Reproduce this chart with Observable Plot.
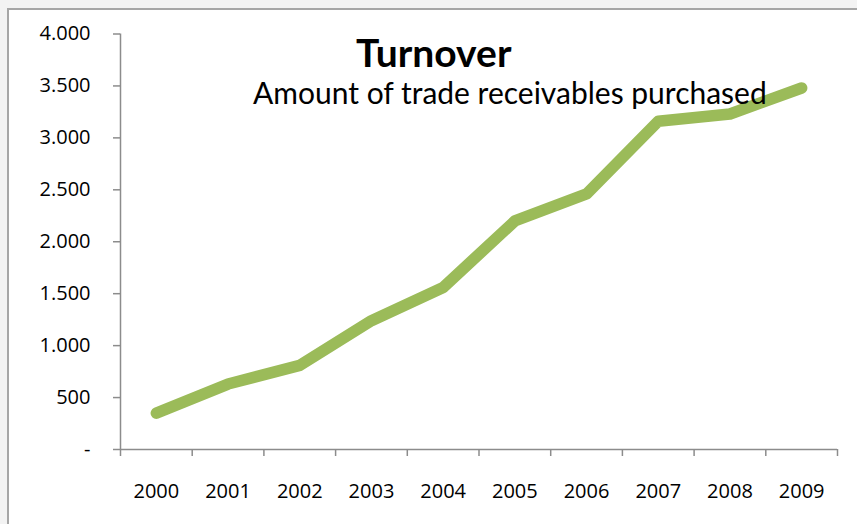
<!DOCTYPE html>
<html>
<head>
<meta charset="utf-8">
<script src="https://cdn.jsdelivr.net/npm/d3@7"></script>
<script src="https://cdn.jsdelivr.net/npm/@observablehq/plot@0.6"></script>
<style>
  html, body { margin: 0; padding: 0; background: #f3f3f3; }
  #wrap { position: relative; width: 857px; height: 524px; overflow: hidden; }
  #frame { position: absolute; left: 7px; top: 8px; width: 900px; height: 600px;
           border: 2px solid #a6a6a6; background: #ffffff; }
  #chart { position: absolute; left: 0; top: 0; }
  .title { position: absolute; left: 356px; top: 33px; font-family: Lato, sans-serif;
           font-weight: 700; font-size: 39px; line-height: 1; color: #000; white-space: nowrap; }
  .subtitle { position: absolute; left: 253px; top: 77px; font-family: Lato, sans-serif;
           font-weight: 400; font-size: 30px; line-height: 1; color: #000; white-space: nowrap; }
</style>
</head>
<body>
<div id="wrap">
  <div id="frame"></div>
  <div id="chart"></div>
  <div class="title">Turnover</div>
  <div class="subtitle">Amount of trade receivables purchased</div>
</div>
<script>
const years = [2000, 2001, 2002, 2003, 2004, 2005, 2006, 2007, 2008, 2009];
const turnover = [350, 630, 810, 1240, 1560, 2200, 2460, 3160, 3230, 3480];
const yTicks = [0, 500, 1000, 1500, 2000, 2500, 3000, 3500, 4000];

const data = years.map((y, i) => ({year: y, value: turnover[i]}));
const boundaries = years.map(y => y - 0.5).concat([years[years.length - 1] + 0.5]);
const fmt = d => d === 0 ? "-" : d3.format(",")(d).replace(/,/g, ".");

const chart = Plot.plot({
  width: 857,
  height: 524,
  marginLeft: 120,
  marginRight: 20,
  marginTop: 33.5,
  marginBottom: 75,
  style: {background: "transparent", fontFamily: "'Open Sans', sans-serif", fontSize: "20px", color: "#000"},
  x: {type: "linear", domain: [years[0] - 0.5, years[years.length - 1] + 0.5]},
  y: {domain: [0, 4000]},
  marks: [
    Plot.axisY({ticks: yTicks, tickSize: 7, tickPadding: 23, tickFormat: fmt, label: null,
                stroke: "#8c8c8c", strokeWidth: 1.5, strokeOpacity: 1, fill: "#000", fontSize: 20}),
    Plot.axisX({ticks: boundaries, tickSize: 7, tickFormat: () => "", label: null,
                stroke: "#8c8c8c", strokeWidth: 1.5, strokeOpacity: 1}),
    Plot.axisX({ticks: years, tickSize: 0, tickPadding: 34, tickFormat: d => String(d), label: null,
                fill: "#000", fontSize: 20}),
    Plot.ruleX([years[0] - 0.5], {stroke: "#8c8c8c", strokeWidth: 1.5}),
    Plot.ruleY([0], {stroke: "#8c8c8c", strokeWidth: 1.5}),
    Plot.line(data, {x: "year", y: "value", stroke: "#9bbb59", strokeWidth: 11.5,
                     strokeLinecap: "round", strokeLinejoin: "round"})
  ]
});
document.getElementById("chart").appendChild(chart);
</script>
</body>
</html>
